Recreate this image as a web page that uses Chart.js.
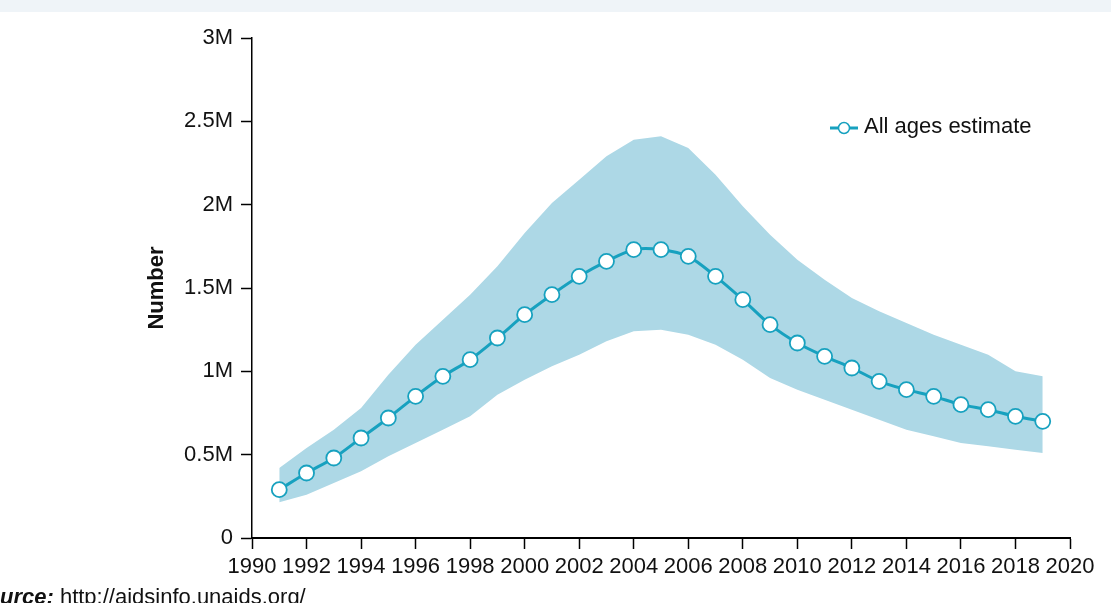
<!DOCTYPE html>
<html>
<head>
<meta charset="utf-8">
<script src="https://cdn.jsdelivr.net/npm/chart.js@4"></script>
<style>
  html, body { margin: 0; padding: 0; background: #fff; }
  #chart { display: block; }
</style>
</head>
<body>
<canvas id="chart" width="1111" height="603"></canvas>
<script>
"use strict";
// values (millions of people)
var years = [1991, 1992, 1993, 1994, 1995, 1996, 1997, 1998, 1999, 2000,
  2001, 2002, 2003, 2004, 2005, 2006, 2007, 2008, 2009, 2010,
  2011, 2012, 2013, 2014, 2015, 2016, 2017, 2018, 2019];
var estimate = [0.29, 0.39, 0.48, 0.60, 0.72, 0.85, 0.97, 1.07, 1.20, 1.34,
  1.46, 1.57, 1.66, 1.73, 1.73, 1.69, 1.57, 1.43, 1.28, 1.17,
  1.09, 1.02, 0.94, 0.89, 0.85, 0.80, 0.77, 0.73, 0.70];
var upperBound = [0.42, 0.54, 0.65, 0.78, 0.98, 1.16, 1.31, 1.46, 1.63, 1.83,
  2.01, 2.15, 2.29, 2.39, 2.41, 2.34, 2.18, 1.99, 1.82, 1.67,
  1.55, 1.44, 1.36, 1.29, 1.22, 1.16, 1.10, 1.00, 0.97];
var lowerBound = [0.215, 0.26, 0.33, 0.40, 0.49, 0.57, 0.65, 0.73, 0.86, 0.95,
  1.03, 1.10, 1.18, 1.24, 1.25, 1.22, 1.16, 1.07, 0.96, 0.89,
  0.83, 0.77, 0.71, 0.65, 0.61, 0.57, 0.55, 0.53, 0.51];
var yTickLabels = ["0", "0.5M", "1M", "1.5M", "2M", "2.5M", "3M"];
var seriesLabel = "All ages estimate";
var axisTitle = "Number";
var sourceLabel = "Source:";
var sourceUrl = " http://aidsinfo.unaids.org/";

var lineColor = "#17a1bf";
var bandColor = "#add8e6";
var textColor = "#111111";
var fontFamily = "'Liberation Sans', Arial, Helvetica, sans-serif";

function toPoints(values) {
  return years.map(function (year, i) { return { x: year, y: values[i] * 1e6 }; });
}

var extrasPlugin = {
  id: "extras",
  beforeDraw: function (chart) {
    var ctx = chart.ctx;
    ctx.save();
    ctx.fillStyle = "#eff4f8";
    ctx.fillRect(0, 0, chart.width, 12);
    ctx.restore();
  },
  afterDraw: function (chart) {
    var ctx = chart.ctx;
    ctx.save();
    // y axis title
    ctx.translate(157, 288);
    ctx.rotate(-Math.PI / 2);
    ctx.font = "bold 22px " + fontFamily;
    ctx.fillStyle = textColor;
    ctx.textAlign = "center";
    ctx.textBaseline = "middle";
    ctx.fillText(axisTitle, 0, 0);
    ctx.restore();

    // legend
    ctx.save();
    ctx.strokeStyle = lineColor;
    ctx.lineWidth = 3;
    ctx.beginPath();
    ctx.moveTo(830, 128);
    ctx.lineTo(858, 128);
    ctx.stroke();
    ctx.beginPath();
    ctx.arc(844, 128, 5.5, 0, Math.PI * 2);
    ctx.fillStyle = "#fff";
    ctx.fill();
    ctx.lineWidth = 1.5;
    ctx.stroke();
    ctx.font = "22px " + fontFamily;
    ctx.fillStyle = textColor;
    ctx.textBaseline = "middle";
    ctx.fillText(seriesLabel, 864, 127);
    ctx.restore();

    // source line, cut at the left edge as in the original
    ctx.save();
    ctx.textBaseline = "alphabetic";
    ctx.fillStyle = textColor;
    ctx.font = "italic bold 22px " + fontFamily;
    var cut = ctx.measureText("So").width;
    var x0 = -cut;
    ctx.fillText(sourceLabel, x0, 604);
    var w = ctx.measureText(sourceLabel).width;
    ctx.font = "22px " + fontFamily;
    ctx.fillText(sourceUrl, x0 + w, 604);
    ctx.restore();
  }
};

new Chart(document.getElementById("chart"), {
  type: "line",
  data: {
    datasets: [
      {
        label: seriesLabel,
        data: toPoints(estimate),
        borderColor: lineColor,
        borderWidth: 3,
        tension: 0.3,
        pointRadius: 7.5,
        pointBorderWidth: 1.8,
        pointBackgroundColor: "#ffffff",
        pointBorderColor: lineColor,
        fill: false
      },
      {
        label: "upper",
        data: toPoints(upperBound),
        borderWidth: 0,
        borderColor: "rgba(0,0,0,0)",
        pointRadius: 0,
        tension: 0,
        backgroundColor: bandColor,
        fill: "+1"
      },
      {
        label: "lower",
        data: toPoints(lowerBound),
        borderWidth: 0,
        borderColor: "rgba(0,0,0,0)",
        pointRadius: 0,
        tension: 0,
        fill: false
      }
    ]
  },
  options: {
    responsive: false,
    animation: false,
    devicePixelRatio: 1,
    layout: { padding: { left: 0, right: 41, top: 38, bottom: 0 } },
    plugins: {
      legend: { display: false },
      tooltip: { enabled: false }
    },
    scales: {
      x: {
        type: "linear",
        min: 1990,
        max: 2020,
        afterFit: function (scale) { scale.height = 65; },
        border: { display: true, color: "#000", width: 2 },
        grid: { drawOnChartArea: false, drawTicks: true, tickLength: 11, tickColor: "#000", tickWidth: 1.5 },
        ticks: {
          stepSize: 2,
          padding: 5,
          color: textColor,
          font: { family: fontFamily, size: 22 },
          maxRotation: 0,
          autoSkip: false,
          callback: function (value) { return String(value); }
        }
      },
      y: {
        min: 0,
        max: 3000000,
        afterFit: function (scale) { scale.width = 252; },
        border: { display: true, color: "#000", width: 1.5 },
        grid: { drawOnChartArea: false, drawTicks: true, tickLength: 11, tickColor: "#000", tickWidth: 1.5 },
        ticks: {
          stepSize: 500000,
          padding: 8,
          color: textColor,
          font: { family: fontFamily, size: 22 },
          callback: function (value, index) { return yTickLabels[index]; }
        }
      }
    }
  },
  plugins: [extrasPlugin]
});
</script>
</body>
</html>
